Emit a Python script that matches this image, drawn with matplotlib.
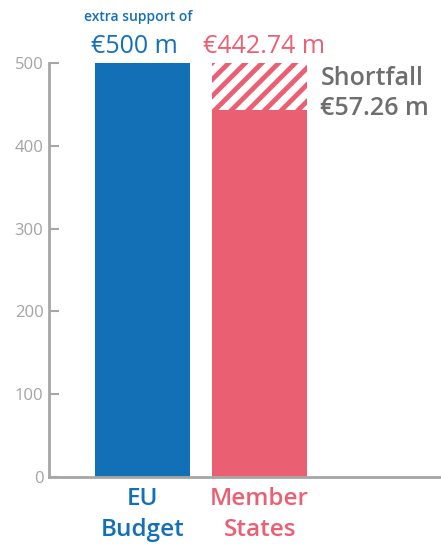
import matplotlib.pyplot as plt

plt.rcParams["font.family"] = ["Open Sans", "DejaVu Sans"]
plt.rcParams["hatch.linewidth"] = 5

categories = ["EU\nBudget", "Member\nStates"]
funded = [500, 442.74]
shortfall = 57.26
value_labels = ["€500 m", "€442.74 m"]
yticks = [0, 100, 200, 300, 400, 500]

blue = "#1470b6"
red = "#eb5f73"
grey = "#a6a6a6"
colors = [blue, red]

fig = plt.figure(figsize=(4.41, 5.46), dpi=100)
ax = fig.add_axes([0.111, 0.1264, 0.889, 0.7582])

x = [0, 1]
ax.bar(x, funded, width=0.81, color=colors, linewidth=0)
# shortfall on top of member states, white stripes
ax.bar(1, shortfall, bottom=funded[1], width=0.81, color=red,
       edgecolor="white", linewidth=0, hatch="//")

ax.set_xlim(-0.8, 2.55)
ax.set_ylim(0, 500)
ax.set_yticks(yticks)
ax.set_xticks(x)
ax.set_xticklabels(categories)
for lbl, c in zip(ax.get_xticklabels(), colors):
    lbl.set_color(c)
    lbl.set_fontsize(17.5)
    lbl.set_fontweight("semibold")
    lbl.set_linespacing(1.4)

ax.tick_params(axis="x", length=0, pad=7)
ax.tick_params(axis="y", direction="in", length=7, width=1.5, color=grey,
               labelcolor="#a3a3a3", labelsize=12, pad=4)
for s in ["top", "right"]:
    ax.spines[s].set_visible(False)
for s in ["left", "bottom"]:
    ax.spines[s].set_color(grey)
    ax.spines[s].set_linewidth(2)

# value labels above bars
offsets = [-6, 3]
for xi, v, t, c, dx in zip(x, funded, value_labels, colors, offsets):
    ax.annotate(t, (xi, 500), xytext=(dx, 3), textcoords="offset points",
                ha="center", va="bottom", color=c, fontsize=18,
                annotation_clip=False)
ax.annotate("extra support of", (0, 500), xytext=(-3, 28),
            textcoords="offset points", ha="center", va="bottom",
            color=blue, fontsize=10, fontweight="semibold",
            annotation_clip=False)

ax.annotate("Shortfall\n€57.26 m", (1.52, 500), xytext=(0, -2),
            textcoords="offset points", ha="left", va="top",
            color="#6e6e6e", fontsize=18, fontweight="semibold",
            linespacing=1.3, annotation_clip=False)

fig.savefig("out.png", dpi=100)
